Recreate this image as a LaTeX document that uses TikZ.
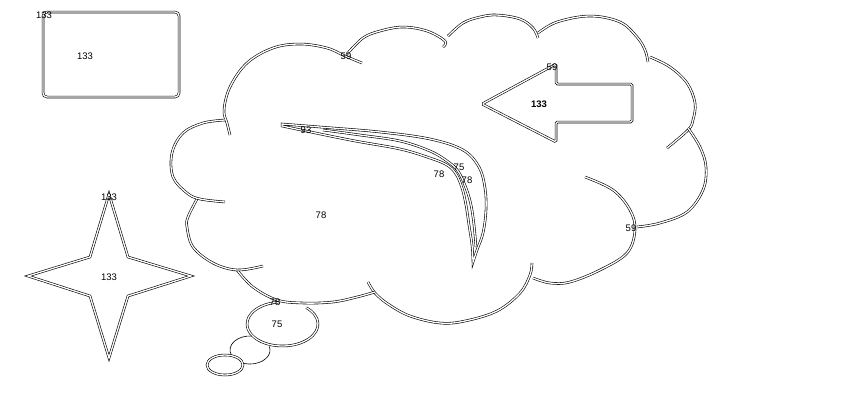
\documentclass[tikz,border=0pt]{standalone}
\usepackage{fontspec}
\setmainfont{Liberation Sans}
\tikzset{
  outline/.style={draw=black,line width=.6pt,double=white,double distance=1.3pt},
  thinline/.style={draw=black,line width=.6pt},
  numeral/.style={font=\fontsize{9.5}{10}\selectfont,inner sep=0pt}
}
\begin{document}
\begin{tikzpicture}[x=1pt,y=1pt,yscale=-1]
\useasboundingbox (0,0) rectangle (862,405);
% frame
\draw[outline,rounded corners=4pt] (43,12) rectangle (179,97);
\node[numeral] (frameref) at (44,15) {133};
\node[numeral] (framein) at (85,56) {133};
% star
\draw[outline] (109,194) -- (128,257) -- (191,276) -- (128,296) -- (109,358)
  -- (90,296) -- (28,276) -- (90,257) -- cycle;
\node[numeral] (starref) at (109,197) {133};
\node[numeral] (starin) at (109,277) {133};
% cloud
\draw[outline] plot[smooth,tension=.6] coordinates {(230,135) (227,123) (224,110) (230,87) (247,63) (273,48) (300,44) (327,48) (345,56) (362,63)};
\draw[outline] plot[smooth,tension=.6] coordinates {(347,54) (363,38) (380,31) (403,27) (427,31) (445,41) (443,47)};
\draw[outline] plot[smooth,tension=.6] coordinates {(448,36) (463,23) (480,17) (497,15) (520,19) (533,28) (538,38)};
\draw[outline] plot[smooth,tension=.6] coordinates {(538,33) (557,22) (590,16) (620,22) (637,37) (645,50) (648,62)};
\draw[outline] plot[smooth,tension=.6] coordinates {(650,57) (670,67) (687,83) (695,103) (693,120) (688,130) (667,148)};
\draw[outline] plot[smooth,tension=.6] coordinates {(688,128) (700,147) (706,167) (703,190) (687,212) (660,223) (637,227)};
\draw[outline] plot[smooth,tension=.6] coordinates {(585,177) (613,190) (630,210) (635,230) (627,253) (600,270) (570,282) (550,283) (533,278)};
\draw[outline] plot[smooth,tension=.6] coordinates {(532,263) (530,275) (520,293) (497,311) (465,321) (440,323) (410,316) (388,304) (375,293) (368,282)};
\draw[outline] plot[smooth,tension=.6] coordinates {(237,270) (253,287) (277,300) (303,303) (333,302) (357,297) (375,292)};
\draw[outline] plot[smooth,tension=.6] coordinates {(197,199) (188,217) (187,227) (193,247) (213,263) (237,270) (263,266)};
\draw[outline] plot[smooth,tension=.6] coordinates {(225,120) (203,123) (183,133) (172,153) (173,177) (187,193) (200,199) (225,202)};
\node[numeral] (cloudtop) at (346,56) {59};
\node[numeral] (cloudright) at (631,228) {59};
\node[numeral] (cloudin) at (321,215) {78};
% bubbles
\draw[outline] (282.5,324) ++(-48:35.5 and 22) arc[start angle=-48,end angle=265,x radius=35.5,y radius=22];
\draw[thinline] (250,350) ++(160:20 and 14) arc[start angle=160,end angle=275,x radius=20,y radius=14];
\draw[thinline] (250,350) ++(-15:20 and 14) arc[start angle=-15,end angle=113,x radius=20,y radius=14];
\draw[outline] (225,365) ellipse[x radius=18,y radius=10];
\node[numeral] (bubbleref) at (275,302) {78};
\node[numeral] (bubblein) at (277,324) {75};
% arrow
\draw[outline,rounded corners=1.5pt] (482,104) -- (556,64) -- (556,84) -- (632,84)
  -- (632,122) -- (556,122) -- (556,142) -- cycle;
\node[numeral] (arrowref) at (552,67) {59};
\node[numeral,font=\fontsize{9.5}{10}\selectfont\bfseries] (arrowin) at (539,104) {133};
% horn
\draw[outline] plot[smooth,tension=.6] coordinates {(282,124) (320,127) (380,132) (430,139) (463,150) (479,167) (485,188) (486,210) (483,233) (477,250) (473,262)}
  -- plot[smooth,tension=.6] coordinates {(473,262) (472,245) (469,225) (466,205) (462,188) (456,174) (447,165) (430,158) (400,149) (350,140) (282,126)} -- cycle;
\draw[outline] plot[smooth,tension=.6] coordinates {(323,130) (360,135) (400,141) (430,151) (447,161) (458,171) (466,188) (471,205) (474,225) (476,247)};
\node[numeral] (hornref) at (306,130) {93};
\node[numeral] (hornout) at (439,174) {78};
\node[numeral] (hornmid) at (459,167) {75};
\node[numeral] (hornin) at (467,180) {78};
\end{tikzpicture}
\end{document}
